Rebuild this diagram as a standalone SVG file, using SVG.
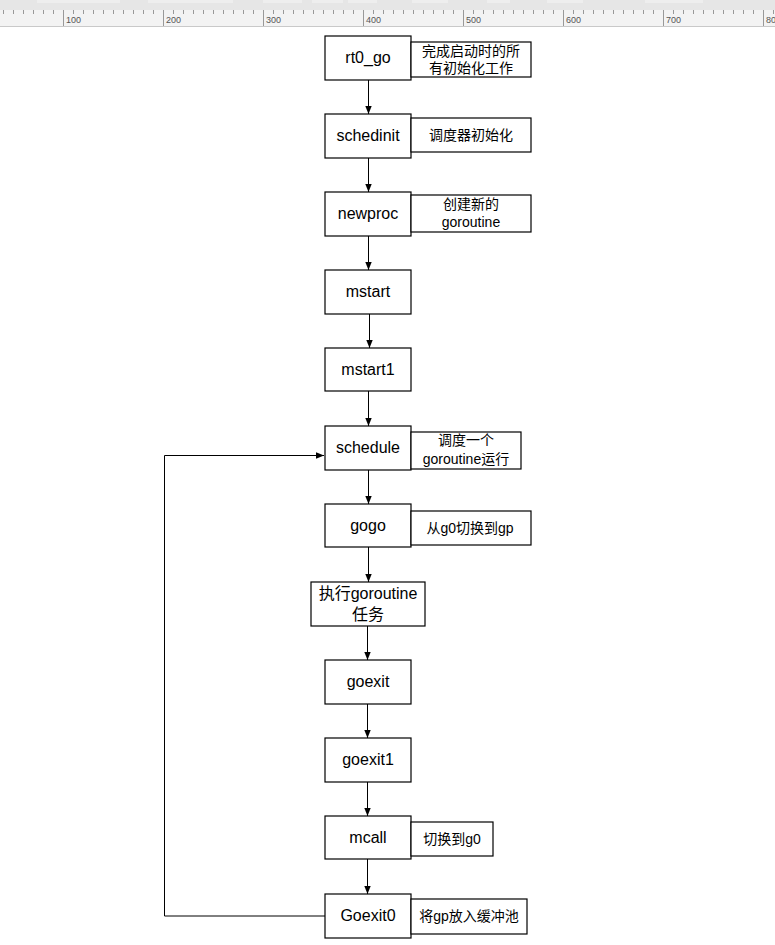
<svg xmlns="http://www.w3.org/2000/svg" width="775" height="945" viewBox="0 0 775 945">
<defs>
<style>
.box{fill:#fff;stroke:#000;stroke-width:1.2}
.lbl{font-family:"Liberation Sans","Noto Sans CJK SC",sans-serif;font-size:16px;fill:#000;text-anchor:middle}
.note{font-family:"Liberation Sans","Noto Sans CJK SC",sans-serif;font-size:14px;fill:#000;text-anchor:middle}
.conn{fill:none;stroke:#000;stroke-width:1}
.rt{font-family:"Liberation Sans",sans-serif;font-size:9px;fill:#555}
.tick{stroke:#999;stroke-width:1}
</style>
<marker id="ah" viewBox="0 0 10 10" refX="10" refY="5" markerWidth="8" markerHeight="8" markerUnits="userSpaceOnUse" orient="auto">
<path d="M0,1 L10,5 L0,9 Z" fill="#000"/>
</marker>
</defs>
<rect width="775" height="945" fill="#fff"/>
<!-- ruler -->
<g id="ruler">
<rect x="0" y="0" width="775" height="10" fill="#e6e6e6"/>
<g fill="#eeeeee">
<rect x="37" y="0" width="83" height="3"/>
<rect x="148" y="0" width="85" height="3"/>
<rect x="263" y="0" width="39" height="3"/>
<rect x="312" y="0" width="31" height="3"/>
<rect x="348" y="0" width="29" height="3"/>
<rect x="412" y="0" width="36" height="3"/>
<rect x="487" y="0" width="23" height="3"/>
<rect x="547" y="0" width="36" height="3"/>
<rect x="645" y="0" width="58" height="3"/>
</g>
<rect x="0" y="10" width="775" height="16" fill="#f3f3f3"/>
<line x1="0" y1="26.5" x2="775" y2="26.5" stroke="#c9c9c9"/>
<path class="tick" d="M3.5,10v4 M13.5,10v4 M23.5,10v4 M33.5,10v4 M43.5,10v4 M53.5,10v4 M73.5,10v4 M83.5,10v4 M93.5,10v4 M103.5,10v4 M113.5,10v4 M123.5,10v4 M133.5,10v4 M143.5,10v4 M153.5,10v4 M173.5,10v4 M183.5,10v4 M193.5,10v4 M203.5,10v4 M213.5,10v4 M223.5,10v4 M233.5,10v4 M243.5,10v4 M253.5,10v4 M273.5,10v4 M283.5,10v4 M293.5,10v4 M303.5,10v4 M313.5,10v4 M323.5,10v4 M333.5,10v4 M343.5,10v4 M353.5,10v4 M373.5,10v4 M383.5,10v4 M393.5,10v4 M403.5,10v4 M413.5,10v4 M423.5,10v4 M433.5,10v4 M443.5,10v4 M453.5,10v4 M473.5,10v4 M483.5,10v4 M493.5,10v4 M503.5,10v4 M513.5,10v4 M523.5,10v4 M533.5,10v4 M543.5,10v4 M553.5,10v4 M573.5,10v4 M583.5,10v4 M593.5,10v4 M603.5,10v4 M613.5,10v4 M623.5,10v4 M633.5,10v4 M643.5,10v4 M653.5,10v4 M673.5,10v4 M683.5,10v4 M693.5,10v4 M703.5,10v4 M713.5,10v4 M723.5,10v4 M733.5,10v4 M743.5,10v4 M753.5,10v4 M773.5,10v4 M63.5,10v16 M163.5,10v16 M263.5,10v16 M363.5,10v16 M463.5,10v16 M563.5,10v16 M663.5,10v16 M763.5,10v16"/>
<text class="rt" x="66" y="23">100</text>
<text class="rt" x="166" y="23">200</text>
<text class="rt" x="266" y="23">300</text>
<text class="rt" x="366" y="23">400</text>
<text class="rt" x="466" y="23">500</text>
<text class="rt" x="566" y="23">600</text>
<text class="rt" x="666" y="23">700</text>
<text class="rt" x="766" y="23">800</text>
</g>
<!-- connectors -->
<g id="connectors">
<line class="conn" x1="368.5" y1="80" x2="368.5" y2="114" marker-end="url(#ah)"/>
<line class="conn" x1="368.5" y1="158" x2="368.5" y2="192" marker-end="url(#ah)"/>
<line class="conn" x1="368.5" y1="236" x2="368.5" y2="270" marker-end="url(#ah)"/>
<line class="conn" x1="369.5" y1="314" x2="369.5" y2="348" marker-end="url(#ah)"/>
<line class="conn" x1="368.5" y1="391" x2="368.5" y2="426" marker-end="url(#ah)"/>
<line class="conn" x1="368.5" y1="470" x2="368.5" y2="504" marker-end="url(#ah)"/>
<line class="conn" x1="368.5" y1="547" x2="368.5" y2="582" marker-end="url(#ah)"/>
<line class="conn" x1="367.5" y1="626" x2="367.5" y2="660" marker-end="url(#ah)"/>
<line class="conn" x1="367.5" y1="704" x2="367.5" y2="738" marker-end="url(#ah)"/>
<line class="conn" x1="367.5" y1="782" x2="367.5" y2="816" marker-end="url(#ah)"/>
<line class="conn" x1="367.5" y1="838" x2="367.5" y2="894" marker-end="url(#ah)"/>
<polyline class="conn" points="325,916 164.5,916 164.5,455.5 324,455.5" marker-end="url(#ah)"/>
</g>
<!-- nodes -->
<g id="rt0_go">
<rect class="box" x="325" y="36" width="86" height="44"/>
<text class="lbl" x="368" y="63">rt0_go</text>
<rect class="box" x="411" y="42" width="120" height="35"/>
<text class="note" x="471" y="56">完成启动时的所</text>
<text class="note" x="471" y="73">有初始化工作</text>
</g>
<g id="schedinit">
<rect class="box" x="325" y="114" width="86" height="44"/>
<text class="lbl" x="368" y="141">schedinit</text>
<rect class="box" x="411" y="118" width="120" height="34"/>
<text class="note" x="471" y="140">调度器初始化</text>
</g>
<g id="newproc">
<rect class="box" x="325" y="192" width="86" height="44"/>
<text class="lbl" x="368" y="219">newproc</text>
<rect class="box" x="411" y="195" width="120" height="37"/>
<text class="note" x="471" y="209">创建新的</text>
<text class="note" x="471" y="227">goroutine</text>
</g>
<g id="mstart">
<rect class="box" x="325" y="270" width="86" height="44"/>
<text class="lbl" x="368" y="297">mstart</text>
</g>
<g id="mstart1">
<rect class="box" x="325" y="348" width="86" height="43"/>
<text class="lbl" x="368" y="375">mstart1</text>
</g>
<g id="schedule">
<rect class="box" x="325" y="426" width="86" height="44"/>
<text class="lbl" x="368" y="453">schedule</text>
<rect class="box" x="411" y="432" width="110" height="37"/>
<text class="note" x="466" y="445">调度一个</text>
<text class="note" x="466" y="464">goroutine运行</text>
</g>
<g id="gogo">
<rect class="box" x="325" y="504" width="86" height="43"/>
<text class="lbl" x="368" y="531">gogo</text>
<rect class="box" x="411" y="511" width="120" height="34"/>
<text class="note" x="470" y="533">从g0切换到gp</text>
</g>
<g id="exec">
<rect class="box" x="311" y="582" width="114" height="44"/>
<text class="lbl" x="368" y="599">执行goroutine</text>
<text class="lbl" x="368" y="620">任务</text>
</g>
<g id="goexit">
<rect class="box" x="325" y="660" width="86" height="44"/>
<text class="lbl" x="368" y="687">goexit</text>
</g>
<g id="goexit1">
<rect class="box" x="325" y="738" width="86" height="44"/>
<text class="lbl" x="368" y="765">goexit1</text>
</g>
<g id="mcall">
<rect class="box" x="325" y="816" width="86" height="43"/>
<text class="lbl" x="368" y="843">mcall</text>
<rect class="box" x="411" y="822" width="82" height="34"/>
<text class="note" x="452" y="844">切换到g0</text>
</g>
<g id="Goexit0">
<rect class="box" x="325" y="894" width="86" height="44"/>
<text class="lbl" x="368" y="921">Goexit0</text>
<rect class="box" x="411" y="899" width="116" height="35"/>
<text class="note" x="469" y="921">将gp放入缓冲池</text>
</g>
</svg>
